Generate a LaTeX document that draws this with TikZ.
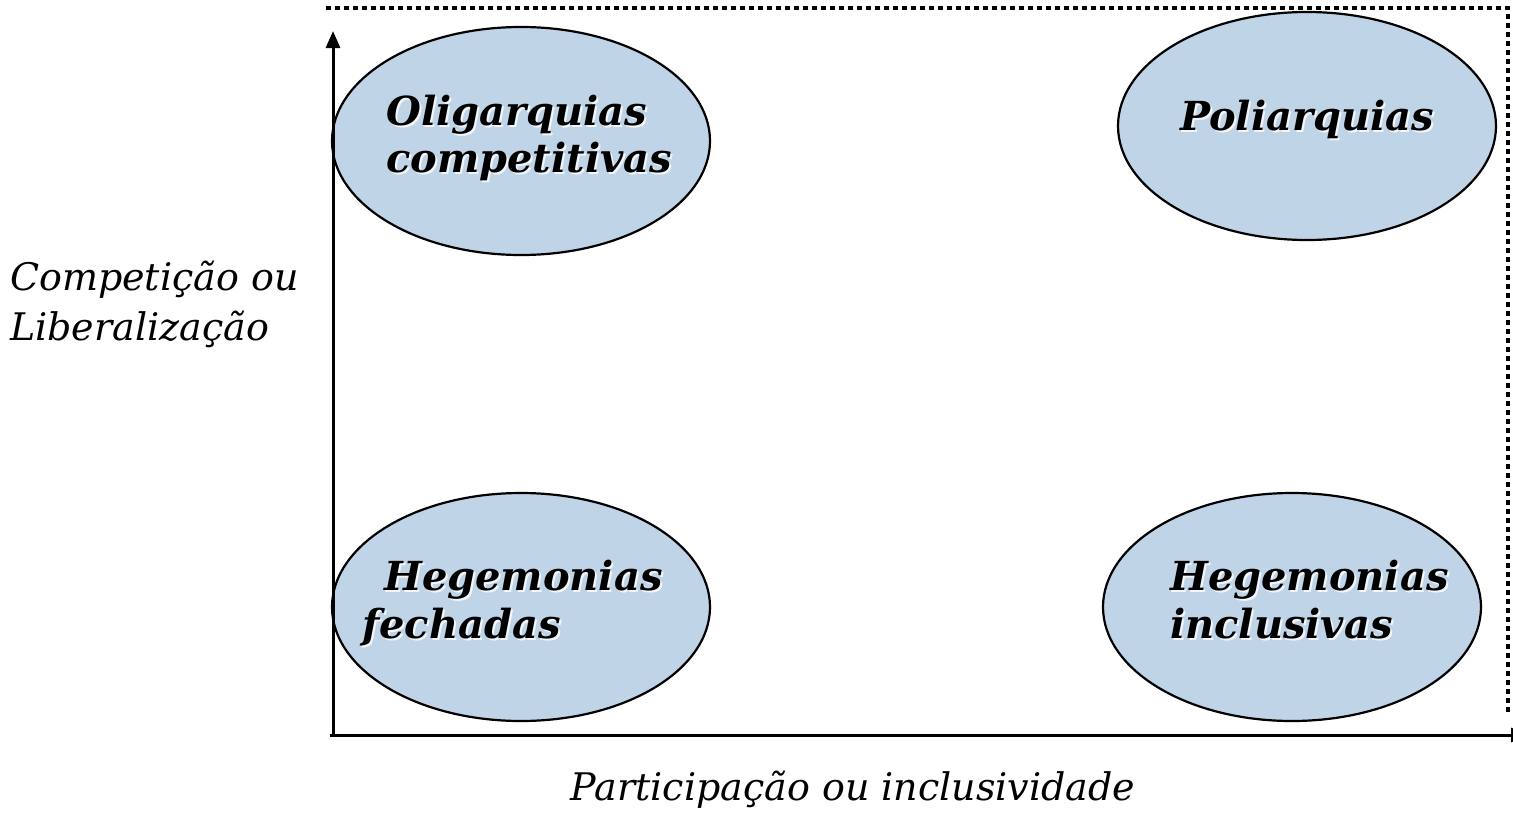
\documentclass[tikz,border=0pt]{standalone}
\usepackage{fontspec}
\setmainfont{DejaVu Serif}
\usetikzlibrary{arrows.meta,shapes.geometric}
\definecolor{ellfill}{HTML}{BFD4E6}
\definecolor{shadowc}{HTML}{F2F6FA}
\tikzset{
  quad/.style={ellipse, draw=black, line width=2.2pt, fill=ellfill, minimum width=378pt, minimum height=228pt, inner sep=0pt},
  lbl/.style={anchor=base west, inner sep=0pt, font=\fontsize{40}{46}\selectfont\bfseries\itshape},
  lblsh/.style={lbl, text=shadowc},
  axlbl/.style={anchor=base west, inner sep=0pt, font=\fontsize{38}{44}\selectfont\itshape},
  axis/.style={line width=3pt},
  frame/.style={line width=4.5pt, dash pattern=on 4.5pt off 4.5pt}
}
\begin{document}
\begin{tikzpicture}[x=1pt,y=-1pt]
\useasboundingbox (0,0) rectangle (1513,814);
\begin{scope}
\clip (0,0) rectangle (1513,814);
% frame
\coordinate (ftl) at (326,8);
\coordinate (ftr) at (1508,8);
\coordinate (fbr) at (1508,716);
\draw[frame] (ftl) -- (ftr) -- (fbr);
% ellipses
\node[quad] (oc) at (521,141) {};
\node[quad] (po) at (1307,126) {};
\node[quad] (hf) at (521,607) {};
\node[quad] (hi) at (1292,607) {};
% axes
\coordinate (orig) at (333,735);
\coordinate (ytop) at (333,31);
\coordinate (xend) at (1528,735);
\draw[axis,-{Triangle[length=17pt,width=14pt]}] (orig) -- (ytop);
\draw[axis,-{Triangle[length=17pt,width=14pt]}] ([xshift=-3pt]orig) -- (xend);
\end{scope}
% ellipse texts
\node[lblsh] (t1s) at (388,127) {Oligarquias};
\node[lbl] (t1) at (386,125) {Oligarquias};
\node[lblsh] (t2s) at (388,174) {competitivas};
\node[lbl] (t2) at (386,172) {competitivas};
\node[lblsh] (t3s) at (1182,132) {Poliarquias};
\node[lbl] (t3) at (1180,130) {Poliarquias};
\node[lblsh] (t4s) at (386,592) {Hegemonias};
\node[lbl] (t4) at (384,590) {Hegemonias};
\node[lblsh] (t5s) at (364,640) {fechadas};
\node[lbl] (t5) at (362,638) {fechadas};
\node[lblsh] (t6s) at (1172,592) {Hegemonias};
\node[lbl] (t6) at (1170,590) {Hegemonias};
\node[lblsh] (t7s) at (1172,640) {inclusivas};
\node[lbl] (t7) at (1170,638) {inclusivas};
% axis labels
\node[axlbl] (ya1) at (10,290) {Competição ou};
\node[axlbl] (ya2) at (10,340) {Liberalização};
\node[axlbl, anchor=base] (xa) at (853,800) {Participação ou inclusividade};
\end{tikzpicture}
\end{document}
